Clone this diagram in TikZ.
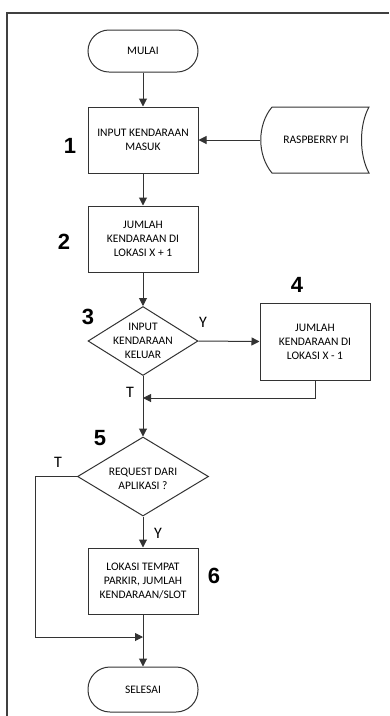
\documentclass[tikz,border=0pt]{standalone}
\usepackage{fontspec}
\setmainfont{Carlito}
\newfontfamily\numfont{Liberation Sans}
\usetikzlibrary{shapes.geometric,arrows.meta}
\begin{document}
\begin{tikzpicture}[x=1pt,y=-1pt,
  line/.style={draw=black!80, line width=1pt},
  arr/.style={line, -{Triangle[length=8pt,width=8pt]}},
  txt/.style={align=center, font=\fontsize{11.5}{14}\selectfont, inner sep=0pt},
  box/.style={line, txt, rectangle, minimum width=110pt, minimum height=66pt},
  term/.style={box, rounded corners=21pt, minimum height=42pt},
  dec/.style={line, diamond, minimum width=110pt, minimum height=69pt, inner sep=0pt},
  num/.style={font=\numfont\bfseries\fontsize{22}{22}\selectfont, inner sep=0pt},
  yt/.style={font=\fontsize{16}{16}\selectfont, inner sep=0pt}]
\useasboundingbox (0,0) rectangle (389,716);
% frame
\draw[draw=black!75, line width=1.3pt] (7,716) -- (7,13) -- (389,13);

% nodes
\node[term] (mulai) at (143,51) {MULAI};
\node[box] (b1) at (143,140) {INPUT KENDARAAN\\MASUK};
\node[txt, minimum width=112pt, minimum height=66pt] (rasp) at (316,140) {RASPBERRY PI};
\draw[line] (272,107) -- (369,107) .. controls (359,125) and (359,155) .. (369,173)
  -- (272,173) .. controls (257,155) and (257,125) .. (272,107);
\node[box] (b2) at (143,239) {JUMLAH\\KENDARAAN DI\\LOKASI X + 1};
\node[dec] (d3) at (143,341) {};
\node[txt] at (d3) {INPUT\\KENDARAAN\\KELUAR};
\node[box, minimum height=77pt] (b4) at (315,341.5) {JUMLAH\\KENDARAAN DI\\LOKASI X - 1};
\node[dec, minimum width=131pt, minimum height=79pt] (d5) at (143,476.5) {};
\node[txt] at ([yshift=-2pt]d5.center) {REQUEST DARI\\APLIKASI ?};
\node[box] (b6) at (143,581) {LOKASI TEMPAT\\PARKIR, JUMLAH\\KENDARAAN/SLOT};
\node[term, minimum height=45pt, rounded corners=22pt] (selesai) at (143,689.5) {SELESAI};

\coordinate (j1) at (143,398);
\coordinate (c0) at (35,476.5);
\coordinate (c1) at (35,637);
\coordinate (j2) at (143,637);

% connectors
\draw[arr] (mulai) -- (b1);
\draw[arr] (rasp.west) -- (b1.east);
\draw[arr] (b1) -- (b2);
\draw[arr] (b2) -- (d3);
\draw[arr] (d3.east) -- (b4.west);
\draw[arr] (b4.south) |- (j1);
\draw[arr] (d3.south) -- (d5.north);
\draw[arr] (d5.west) -- (c0) -- (c1) -- (j2);
\draw[arr] (d5.south) -- (b6.north);
\draw[arr] (b6.south) -- (selesai.north);

% labels
\node[num] (n1) at (70,146) {1};
\node[num] (n2) at (64,242) {2};
\node[num] (n3) at (88,317) {3};
\node[num] (n4) at (297,285) {4};
\node[num] (n5) at (100,438) {5};
\node[num] (n6) at (214,576) {6};
\node[yt] (y1) at (203,322) {Y};
\node[yt] (t1) at (130,392) {T};
\node[yt] (t2) at (58,462) {T};
\node[yt] (y2) at (158,533) {Y};
\end{tikzpicture}
\end{document}
